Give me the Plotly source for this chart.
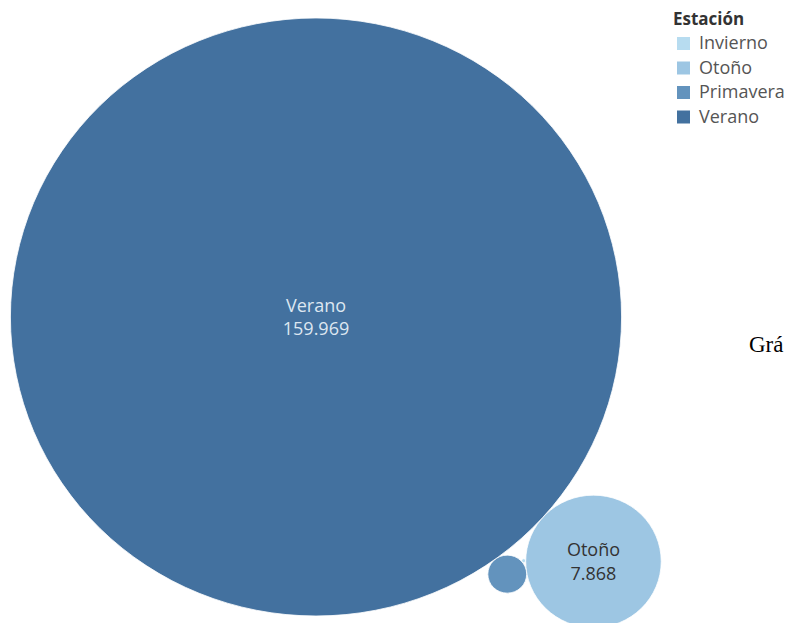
import math
import plotly.graph_objects as go

# ---------------- data ----------------
categories = ["Invierno", "Otoño", "Primavera", "Verano"]
values = [7, 7868, 646, 159969]
colors = ["#b7dcf0", "#9dc6e3", "#6393bd", "#43719f"]
legend_title = "Estación"
side_text = "Grá"

# ---------------- layout parameters ----------------
W, H = 787, 623
K = 0.7476                 # radius units per sqrt(value)
angle2 = math.radians(-42) # direction of 2nd bubble from the 1st
cx_px, cy_px = 316, 317    # pixel position of the largest bubble
sx = 1.022                 # horizontal px per unit (slight stretch of the picture)
FONT = "Open Sans"


def fmt(v):
    return f"{v:,}".replace(",", ".")


def tangent(a, da, b, db, side):
    (ax, ay), (bx, by) = a, b
    dx, dy = bx - ax, by - ay
    d = math.hypot(dx, dy)
    ux, uy = dx / d, dy / d
    aa = (da * da - db * db + d * d) / (2 * d)
    h = math.sqrt(max(da * da - aa * aa, 0))
    px, py = ax + aa * ux, ay + aa * uy
    return (px + side * h * (-uy), py + side * h * ux)


radius = {c: K * math.sqrt(v) for c, v in zip(categories, values)}
order = sorted(categories, key=lambda c: -values[categories.index(c)])
c1, c2, c3, c4 = order
pos = {}
pos[c1] = (0.0, 0.0)
pos[c2] = ((radius[c1] + radius[c2]) * math.cos(angle2),
           (radius[c1] + radius[c2]) * math.sin(angle2))
pos[c3] = tangent(pos[c1], radius[c1] + radius[c3], pos[c2], radius[c2] + radius[c3], -1)
pos[c4] = tangent(pos[c3], radius[c3] + radius[c4], pos[c2], radius[c2] + radius[c4], +1)

fig = go.Figure()

shapes = []
for c, col in zip(categories, colors):
    x, y = pos[c]
    r = radius[c]
    shapes.append(dict(type="circle", xref="x", yref="y",
                       x0=x - r, x1=x + r, y0=y - r, y1=y + r,
                       fillcolor=col, line=dict(color="rgba(255,255,255,0.8)", width=1),
                       layer="below"))

# labels for bubbles large enough
lx, ly, lt, lc = [], [], [], []
for c, v in zip(categories, values):
    if radius[c] > 40:
        lx.append(pos[c][0]); ly.append(pos[c][1] - 2)
        lt.append(f"{c}<br>{fmt(v)}")
        lc.append("#dde7f1" if v == max(values) else "#333333")

fig.add_trace(go.Scatter(x=lx, y=ly, mode="text", text=lt,
                         textfont=dict(family=FONT, size=18, color=lc),
                         hoverinfo="skip", showlegend=False))

# manual legend
annotations = [dict(x=671 / W, y=1 - 19 / H, xref="paper", yref="paper",
                    text=f"<b>{legend_title}</b>", showarrow=False,
                    xanchor="left", yanchor="middle",
                    font=dict(family=FONT, size=17, color="#333333"))]
for i, (c, col) in enumerate(zip(categories, colors)):
    yc = 43 + 24.5 * i
    shapes.append(dict(type="rect", xref="paper", yref="paper",
                       x0=677 / W, x1=690 / W, y0=1 - (yc + 7) / H, y1=1 - (yc - 6) / H,
                       fillcolor=col, line=dict(width=0)))
    annotations.append(dict(x=697 / W, y=1 - (yc - 0.5) / H, xref="paper", yref="paper",
                            text=c, showarrow=False, xanchor="left", yanchor="middle",
                            font=dict(family=FONT, size=18, color="#555555")))

annotations.append(dict(x=747 / W, y=1 - 344 / H, xref="paper", yref="paper",
                        text=side_text, showarrow=False, xanchor="left", yanchor="middle",
                        font=dict(family="Liberation Serif", size=23, color="#000000")))

fig.update_layout(
    width=W, height=H, margin=dict(l=0, r=0, t=0, b=0),
    paper_bgcolor="white", plot_bgcolor="white",
    xaxis=dict(range=[-cx_px / sx, (W - cx_px) / sx], visible=False, fixedrange=True),
    yaxis=dict(range=[-(H - cy_px), cy_px], visible=False, fixedrange=True),
    shapes=shapes, annotations=annotations, showlegend=False,
)

fig.write_html("out.html", config={"displayModeBar": False},
               post_script="document.body.style.margin='0';document.body.style.overflow='hidden';")
